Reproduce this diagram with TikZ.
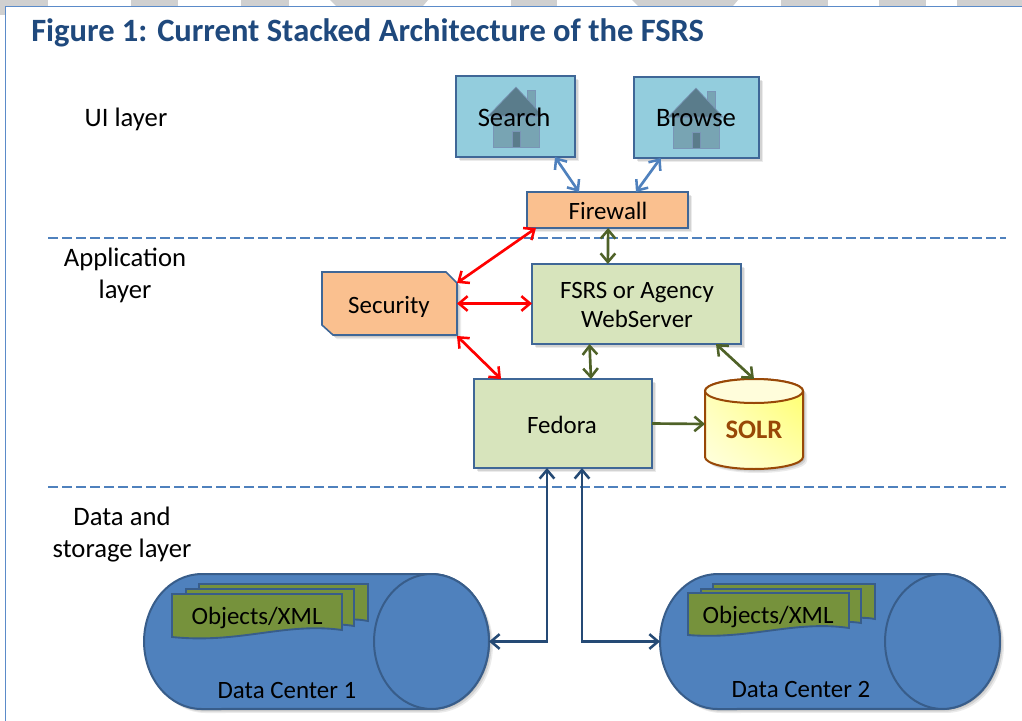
\documentclass[tikz,border=0pt]{standalone}
\usepackage{fontspec}
\setmainfont{Carlito}
\usetikzlibrary{arrows.meta,shadows,shadings,positioning}
\definecolor{band}{HTML}{D0D0D0}
\definecolor{frameblue}{HTML}{5B8BC9}
\definecolor{titleblue}{HTML}{1F497D}
\definecolor{dashblue}{HTML}{4F81BD}
\definecolor{boxline}{HTML}{3F6797}
\definecolor{skyfill}{HTML}{93CDDD}
\definecolor{orangefill}{HTML}{FAC08F}
\definecolor{greenfill}{HTML}{D7E4BC}
\definecolor{greenline}{HTML}{4F6228}
\definecolor{navyline}{HTML}{254A75}
\definecolor{cylfill}{HTML}{4F81BD}
\definecolor{cylline}{HTML}{385D8A}
\definecolor{docfill}{HTML}{76923C}
\definecolor{solrline}{HTML}{984807}
\definecolor{roofc}{HTML}{5A7C8B}
\definecolor{bodyc}{HTML}{78A4B3}
\newcommand{\pxfont}[2]{\fontsize{#1}{#2}\selectfont}
\tikzset{
  softsh/.style={
    general shadow={fill=black,opacity=.10,shadow xshift=1pt,shadow yshift=-1pt},
    general shadow={fill=black,opacity=.10,shadow xshift=2pt,shadow yshift=-2pt},
    general shadow={fill=black,opacity=.08,shadow xshift=3pt,shadow yshift=-3pt}},
  pxbox/.style={draw=boxline,line width=1.2pt,inner sep=0pt,outer sep=0pt,align=center,softsh},
  skybox/.style={pxbox,fill=skyfill},
  orangebox/.style={pxbox,fill=orangefill},
  greenbox/.style={pxbox,fill=greenfill},
  ghost/.style={inner sep=0pt,outer sep=0pt,align=center},
  lbl/.style={inner sep=0pt,outer sep=0pt,align=center,font=\pxfont{20}{24}},
  boxtxt/.style={font=\pxfont{18.7}{22}},
  bigtxt/.style={font=\pxfont{20}{22}},
  conn/.style={line width=2pt,{Straight Barb[length=6.5pt,width=11pt,line width=1.9pt]}-{Straight Barb[length=6.5pt,width=11pt,line width=1.9pt]}},
  oneway/.style={line width=2pt,-{Straight Barb[length=6.5pt,width=11pt,line width=1.9pt]}},
  docsheet/.style={draw=cylline,line width=1.4pt,fill=docfill},
  cylbody/.style={draw=cylline,line width=1.5pt,fill=cylfill},
  layerline/.style={draw=dashblue,line width=1.8pt,dash pattern=on 7.5pt off 3pt},
  housepart/.style={draw=boxline!70,line width=.5pt}
}
\newcommand{\mkbox}[7]{\node[#2,minimum width={(#5-#3)*0.75pt},minimum height={(#6-#4)*0.75pt}] (#1) at ({(#3+#5)/2},{(#4+#6)/2}) {#7};}
\newcommand{\houseat}[2]{%
  \begin{scope}[shift={(#1,#2)}]
    \filldraw[housepart,fill=bodyc] (11,3) rectangle (19,25);
    \filldraw[housepart,fill=bodyc] (-23,29) rectangle (23,60);
    \filldraw[housepart,fill=roofc] (0,0) -- (27,29) -- (-28,29) -- cycle;
    \filldraw[housepart,fill=roofc] (-4,44) rectangle (4,60);
  \end{scope}}
\newcommand{\cylshape}[2]{%
  \path[cylbody,softsh] ({#1+57.5},574) -- ({#2-57.5},574) arc[start angle=90,end angle=-90,x radius=43.1pt,y radius=50.6pt] -- ({#1+57.5},709) arc[start angle=270,end angle=90,x radius=43.1pt,y radius=50.6pt] -- cycle;
  \draw[cylbody] ({#2-57.5},641.5) ellipse[x radius=43.1pt,y radius=50.6pt];}
\begin{document}
\begin{tikzpicture}[x=0.75pt,y=-0.75pt]
\useasboundingbox (0,0) rectangle (1022,721);
\fill[white] (0,0) rectangle (1022,721);
% top band
\fill[band] (0,0) rectangle (48,6);
\fill[band] (0,0) rectangle (5,15);
\fill[band] (131,0) rectangle (178,6);
\fill[band] (241,0) rectangle (289,6);
\fill[band] (330,0) -- (428,0) -- (423,6) -- (336,6) -- cycle;
\fill[band] (511,0) rectangle (557,6);
\fill[band] (632,0) -- (738,0) -- (733,6) -- (638,6) -- cycle;
\fill[band] (781,0) rectangle (828,6);
\fill[band] (879,0) rectangle (926,6);
\fill[band] (957,0) rectangle (1022,6);
\draw[frameblue,line width=.9pt] (5.5,721) -- (5.5,6.5) -- (1022,6.5);
% title
\node[anchor=west,inner sep=0pt,font=\pxfont{24.4}{28}\bfseries,text=titleblue] (title) at (31,33) {Figure 1: Current Stacked Architecture of the FSRS};
% layer labels
\node[lbl] (uilabel) at (126,119) {UI layer};
\node[lbl] (applabel) at (125,275) {Application\\layer};
\node[lbl] (datalabel) at (122,535) {Data and\\storage layer};
% layer lines
\coordinate (la) at (48,238); \coordinate (lb) at (1006,238);
\coordinate (lc) at (48,487); \coordinate (ld) at (1006,487);
\draw[layerline] (la) -- (lb);
\draw[layerline] (lc) -- (ld);
% UI boxes
\mkbox{search}{skybox}{456}{76}{575}{157}{}
\mkbox{browse}{skybox}{634}{77}{759}{158}{}
\houseat{516}{87}
\houseat{696}{88}
\node[ghost,bigtxt] (searchtxt) at (514,117) {Search};
\node[ghost,bigtxt] (browsetxt) at (696,118) {Browse};
\mkbox{firewall}{orangebox}{527}{192}{688}{228}{}
\node[ghost,boxtxt] (fwtxt) at (608,211) {Firewall};
% security
\path[pxbox,fill=orangefill] (322,272) -- (446,272) -- (457,283) -- (457,335) -- (333,335) -- (322,325) -- cycle;
\node[ghost,minimum width=101.25pt,minimum height=47.25pt] (security) at (389.5,303.5) {};
\node[ghost,boxtxt] (sectxt) at (389,307) {Security};
\mkbox{web}{greenbox}{532}{264}{741}{344}{}
\node[ghost,boxtxt] (webtxt) at (637,305) {FSRS or Agency\\WebServer};
\mkbox{fedora}{greenbox}{474}{379}{652}{468}{}
\node[ghost,boxtxt] (fedtxt) at (562,425) {Fedora};
% SOLR
\path[draw=solrline,line width=1.5pt,softsh,left color=white,right color=white,path picture={
  \shade[lower right=yellow!60,upper left=yellow!12,lower left=yellow!30,upper right=yellow!30] (705,379) rectangle (803,469);}]
  (705,391) -- (705,457) arc[start angle=180,end angle=360,x radius=36.75pt,y radius=9pt] -- (803,391) arc[start angle=0,end angle=180,x radius=36.75pt,y radius=9pt] -- cycle;
\draw[draw=solrline,line width=1.5pt,fill=yellow!14] (754,391) ellipse[x radius=36.75pt,y radius=9pt];
\node[ghost,minimum width=73.5pt,minimum height=67.5pt] (solr) at (754,424) {};
\node[ghost,font=\pxfont{20}{22}\bfseries,text=solrline] (solrtxt) at (754,430) {SOLR};
% data centres
\cylshape{144}{489}
\node[ghost,minimum width=258.75pt,minimum height=101.25pt] (dc1) at (316.5,641.5) {};
\cylshape{660}{1000}
\node[ghost,minimum width=255pt,minimum height=101.25pt] (dc2) at (830,641.5) {};
\draw[docsheet] (199,584) -- (368,584) -- (368,621) .. controls (340,615) and (300,628) .. (199,628) -- cycle;
\draw[docsheet] (186,589) -- (354,589) -- (354,626) .. controls (320,620) and (280,634) .. (186,632) -- cycle;
\draw[docsheet] (172,594) -- (342,594) -- (342,630) .. controls (285,622) and (240,644) .. (172,637) -- cycle;
\node[ghost,boxtxt] (obj1) at (257,618) {Objects/XML};
\node[ghost,boxtxt] (dctxt1) at (287,690) {Data Center 1};
\draw[docsheet] (713,584) -- (875,584) -- (875,619) .. controls (850,614) and (810,626) .. (713,626) -- cycle;
\draw[docsheet] (701,589) -- (861,589) -- (861,623) .. controls (830,618) and (790,630) .. (701,630) -- cycle;
\draw[docsheet] (688,593) -- (849,593) -- (849,628) .. controls (795,620) and (750,640) .. (688,635) -- cycle;
\node[ghost,boxtxt] (obj2) at (768,617) {Objects/XML};
\node[ghost,boxtxt] (dctxt2) at (801,689) {Data Center 2};
% connectors
\draw[conn,dashblue] ([xshift=-15pt]search.south east) -- ([xshift=39pt]firewall.north west);
\draw[conn,dashblue] ([xshift=20pt]browse.south west) -- ([xshift=-39pt]firewall.north east);
\draw[conn,greenline] ([xshift=.5pt]firewall.south) -- ([xshift=-21.5pt]web.north);
\draw[conn,red] ([xshift=6.75pt]firewall.south west) -- ([yshift=-8.25pt]security.north east);
\draw[conn,red] (security.east) -- (security.east -| web.west);
\draw[conn,red] ([yshift=-.75pt]security.south east) -- ([xshift=20.25pt]fedora.north west);
\draw[conn,greenline] ([xshift=-35.25pt]web.south) -- ([xshift=21pt]fedora.north);
\draw[conn,greenline] ([xshift=-18.75pt]web.south east) -- (solr.north);
\draw[oneway,greenline] (fedora.east) -- (solr.west);
\draw[conn,navyline] ([xshift=-12pt]fedora.south) |- (dc1.east);
\draw[conn,navyline] ([xshift=14.25pt]fedora.south) |- (dc2.west);
\end{tikzpicture}
\end{document}
